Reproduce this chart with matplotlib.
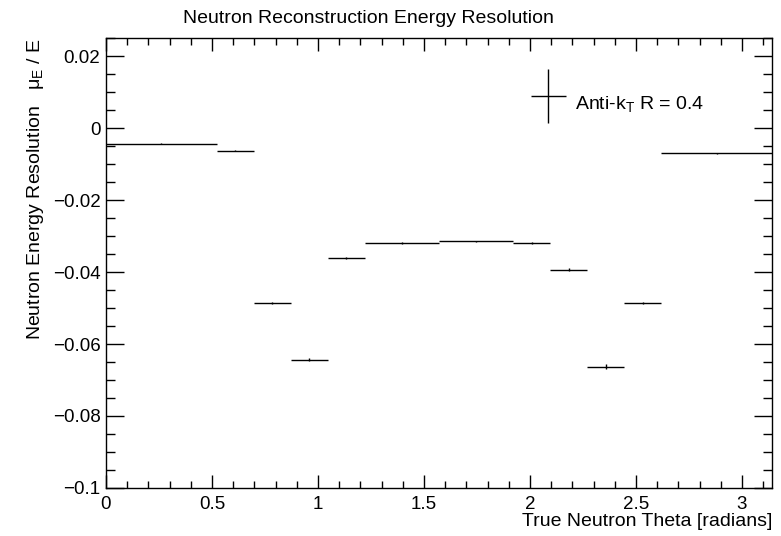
import numpy as np
import matplotlib
matplotlib.use("Agg")
import matplotlib.pyplot as plt
from matplotlib.ticker import MultipleLocator
from matplotlib.legend_handler import HandlerErrorbar

plt.rcParams['font.family'] = ['Liberation Sans', 'DejaVu Sans']
plt.rcParams['font.size'] = 14

# bin edges in degrees, converted to radians
edges_deg = [0, 30, 40, 50, 60, 70, 90, 110, 120, 130, 140, 150, 180]
mean_res = [-0.0043, -0.0063, -0.0485, -0.0644, -0.0362, -0.0320,
            -0.0315, -0.0319, -0.0394, -0.0663, -0.0486, -0.0070]
mean_err = [0.0001, 0.0002, 0.0003, 0.0004, 0.0003, 0.0002,
            0.0002, 0.0002, 0.0004, 0.0007, 0.0004, 0.0001]

edges = np.radians(edges_deg)
centers = 0.5 * (edges[1:] + edges[:-1])
halfw = 0.5 * (edges[1:] - edges[:-1])

fig = plt.figure(figsize=(7.81, 5.36), dpi=100)
ax = fig.add_axes([0.1357, 0.0896, 0.8528, 0.8394])

ax.errorbar(centers, mean_res, xerr=halfw, yerr=mean_err, fmt='none',
            ecolor='black', elinewidth=1.0, label=r'Anti-k$_\mathregular{T}$ R = 0.4')

ax.set_xlim(0, np.pi)
ax.set_ylim(-0.1, 0.025)
ax.xaxis.set_major_locator(MultipleLocator(0.5))
ax.xaxis.set_minor_locator(MultipleLocator(0.1))
ax.yaxis.set_major_locator(MultipleLocator(0.02))
ax.yaxis.set_minor_locator(MultipleLocator(0.005))


def fmt(v, p):
    s = f"{round(v, 6):g}"
    if s in ("-0", "0"):
        return "0"
    return s.replace('-', '\u2212')


ax.xaxis.set_major_formatter(plt.FuncFormatter(fmt))
ax.yaxis.set_major_formatter(plt.FuncFormatter(fmt))

ax.tick_params(axis='both', which='major', labelsize=13.5)
ax.tick_params(axis='x', which='major', direction='in', length=9.5, width=1, top=True, pad=6)
ax.tick_params(axis='x', which='minor', direction='in', length=5, width=1, top=True)
ax.tick_params(axis='y', which='major', direction='in', length=13, width=1, right=True, pad=4)
ax.tick_params(axis='y', which='minor', direction='in', length=6.5, width=1, right=True)
for s in ax.spines.values():
    s.set_linewidth(1)

ax.set_xlabel('True Neutron Theta [radians]', loc='right', labelpad=0)
ax.set_ylabel(r'Neutron Energy Resolution   $\mathregular{\mu_{E}}$ / E', loc='top', labelpad=5)

fig.text(0.472, 0.966, 'Neutron Reconstruction Energy Resolution', ha='center', va='center', fontsize=14)

ax.legend(loc='upper left', bbox_to_anchor=(0.60, 0.94), frameon=False,
          handlelength=2.6, handleheight=3.0, handletextpad=0.05,
          handler_map={type(ax.containers[0]): HandlerErrorbar(xerr_size=0.9, yerr_size=1.4)})

fig.savefig('out.png', dpi=100)
